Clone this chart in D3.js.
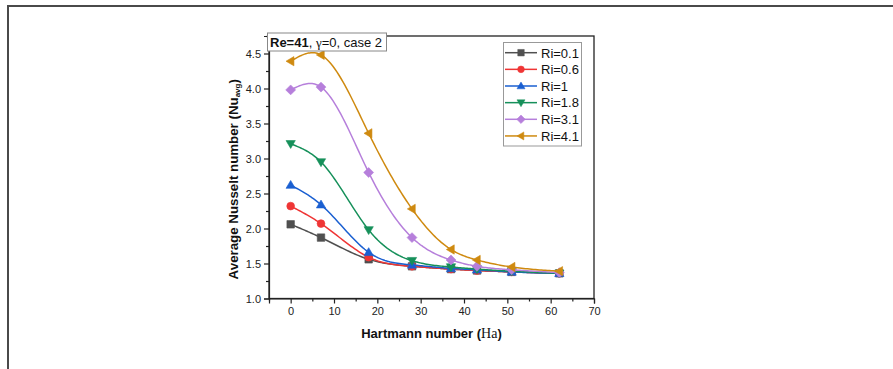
<!DOCTYPE html>
<html>
<head>
<meta charset="utf-8">
<script src="https://cdn.jsdelivr.net/npm/d3@7"></script>
<style>
  html, body { margin: 0; padding: 0; background: #fff; }
  svg { display: block; font-family: Arial, "Liberation Sans", sans-serif; }
</style>
</head>
<body>
<svg id="chart" width="893" height="369"></svg>
<script>
// Hartmann numbers sampled
const hartmann = [0, 7, 18, 28, 37, 43, 51, 62];

// Average Nusselt number for each Richardson number
const ri01 = [2.06, 1.87, 1.56, 1.46, 1.42, 1.40, 1.38, 1.36];
const ri06 = [2.32, 2.07, 1.59, 1.46, 1.42, 1.40, 1.38, 1.36];
const ri1  = [2.62, 2.34, 1.66, 1.48, 1.43, 1.41, 1.38, 1.36];
const ri18 = [3.21, 2.95, 1.98, 1.54, 1.45, 1.42, 1.39, 1.36];
const ri31 = [3.98, 4.02, 2.80, 1.87, 1.55, 1.46, 1.41, 1.37];
const ri41 = [4.39, 4.48, 3.36, 2.28, 1.70, 1.55, 1.45, 1.39];

const seriesNames = ["Ri=0.1", "Ri=0.6", "Ri=1", "Ri=1.8", "Ri=3.1", "Ri=4.1"];
const xTicks = [0, 10, 20, 30, 40, 50, 60, 70];
const yTicks = [1.0, 1.5, 2.0, 2.5, 3.0, 3.5, 4.0, 4.5];

const series = [
  { name: seriesNames[0], values: ri01, color: "#505050", shape: "square" },
  { name: seriesNames[1], values: ri06, color: "#ef3535", shape: "circle" },
  { name: seriesNames[2], values: ri1,  color: "#1a5fd1", shape: "up" },
  { name: seriesNames[3], values: ri18, color: "#16905a", shape: "down" },
  { name: seriesNames[4], values: ri31, color: "#b67fdb", shape: "diamond" },
  { name: seriesNames[5], values: ri41, color: "#cf8a10", shape: "left" }
];

const svg = d3.select("#chart");

// outer frame (left and top edges of the figure panel)
svg.append("path")
  .attr("d", "M8,369 V6 H893")
  .attr("fill", "none")
  .attr("stroke", "#4a4a4a")
  .attr("stroke-width", 2);

const plot = { left: 269, right: 594, top: 36, bottom: 298.5 };

const x = d3.scaleLinear().domain([-5, 70]).range([plot.left, plot.right]);
const y = d3.scaleLinear().domain([1.0, 4.75]).range([plot.bottom, plot.top]);

// frame of the plot area
svg.append("rect")
  .attr("x", plot.left).attr("y", plot.top)
  .attr("width", plot.right - plot.left).attr("height", plot.bottom - plot.top)
  .attr("fill", "none").attr("stroke", "#222").attr("stroke-width", 1.3);

// x axis: major + minor ticks
svg.append("g").attr("transform", `translate(0,${plot.bottom})`)
  .call(d3.axisBottom(x).tickValues(xTicks).tickSize(5).tickPadding(4).tickFormat(d3.format("d")));
svg.append("g").attr("transform", `translate(0,${plot.bottom})`)
  .call(d3.axisBottom(x).tickValues([-5, 5, 15, 25, 35, 45, 55, 65]).tickSize(3).tickFormat(""))
  .call(g => g.select(".domain").remove());

// y axis: major + minor ticks
svg.append("g").attr("transform", `translate(${plot.left},0)`)
  .call(d3.axisLeft(y).tickValues(yTicks).tickSize(5).tickPadding(3).tickFormat(d3.format(".1f")));
svg.append("g").attr("transform", `translate(${plot.left},0)`)
  .call(d3.axisLeft(y).tickValues([1.25, 1.75, 2.25, 2.75, 3.25, 3.75, 4.25, 4.75]).tickSize(3).tickFormat(""))
  .call(g => g.select(".domain").remove());

svg.selectAll(".tick line, .domain").attr("stroke", "#222").attr("stroke-width", 1.2);
svg.selectAll(".tick text").attr("font-size", 11).attr("fill", "#222")
  .attr("font-family", "Arial, 'Liberation Sans', sans-serif");

// axis titles
const xTitle = svg.append("text")
  .attr("x", (x(-5) + x(70)) / 2).attr("y", 338)
  .attr("text-anchor", "middle").attr("font-size", 13).attr("font-weight", "bold").attr("fill", "#111");
xTitle.append("tspan").text("Hartmann number (");
xTitle.append("tspan").attr("font-family", "'Liberation Serif', 'DejaVu Serif', serif").attr("font-weight", "normal").attr("font-size", 14).text("Ha");
xTitle.append("tspan").text(")");

const yTitle = svg.append("text")
  .attr("transform", `translate(238,${(plot.top + plot.bottom) / 2 + 12}) rotate(-90)`)
  .attr("text-anchor", "middle").attr("font-size", 13.3).attr("font-weight", "bold").attr("fill", "#111");
yTitle.append("tspan").text("Average Nusselt number (Nu");
yTitle.append("tspan").attr("font-size", 8).attr("dy", 2).text("avg");
yTitle.append("tspan").attr("dy", -2).text(")");

// marker symbols
function symbolPath(shape, size) {
  const s = size;
  switch (shape) {
    case "square": return d3.symbol(d3.symbolSquare, s * s).call();
    case "circle": return d3.symbol(d3.symbolCircle, s * s * 0.85).call();
    case "diamond": {
      const r = s * 0.66;
      return `M0,${-r}L${r},0L0,${r}L${-r},0Z`;
    }
    default: {
      const r = s * 0.62;
      const tri = [[0, -r], [r, r * 0.7], [-r, r * 0.7]];
      const ang = { up: 0, down: 180, left: -90 }[shape];
      const a = ang * Math.PI / 180;
      const pts = tri.map(([px, py]) => [px * Math.cos(a) - py * Math.sin(a), px * Math.sin(a) + py * Math.cos(a)]);
      return "M" + pts.map(p => p.map(v => v.toFixed(2)).join(",")).join("L") + "Z";
    }
  }
}

// natural cubic spline y(x) over non-uniform x, sampled densely
function naturalSpline(xs, ys) {
  const n = xs.length;
  const h = d3.range(n - 1).map(i => xs[i + 1] - xs[i]);
  const m = new Array(n).fill(0);
  const a = [], b = [], c = [], r = [];
  for (let i = 1; i < n - 1; i++) {
    a.push(h[i - 1]); b.push(2 * (h[i - 1] + h[i])); c.push(h[i]);
    r.push(6 * ((ys[i + 1] - ys[i]) / h[i] - (ys[i] - ys[i - 1]) / h[i - 1]));
  }
  const k = r.length;
  for (let i = 1; i < k; i++) {
    const w = a[i] / b[i - 1];
    b[i] -= w * c[i - 1];
    r[i] -= w * r[i - 1];
  }
  const sol = new Array(k);
  sol[k - 1] = r[k - 1] / b[k - 1];
  for (let i = k - 2; i >= 0; i--) sol[i] = (r[i] - c[i] * sol[i + 1]) / b[i];
  for (let i = 0; i < k; i++) m[i + 1] = sol[i];
  const pts = [];
  for (let i = 0; i < n - 1; i++) {
    const steps = 24;
    for (let s = 0; s <= steps; s++) {
      if (i > 0 && s === 0) continue;
      const t = xs[i] + h[i] * s / steps;
      const A = (xs[i + 1] - t) / h[i], B = (t - xs[i]) / h[i];
      const v = A * ys[i] + B * ys[i + 1] +
        ((A * A * A - A) * m[i] + (B * B * B - B) * m[i + 1]) * h[i] * h[i] / 6;
      pts.push([t, v]);
    }
  }
  return pts;
}

const line = d3.line().x(d => x(d[0])).y(d => y(d[1]));

const gSeries = svg.append("g");
series.forEach(s => {
  const g = gSeries.append("g");
  g.append("path").attr("d", line(naturalSpline(hartmann, s.values)))
    .attr("fill", "none").attr("stroke", s.color).attr("stroke-width", 1.5);
  g.selectAll("path.mk").data(s.values).join("path").attr("class", "mk")
    .attr("transform", (d, i) => `translate(${x(hartmann[i])},${y(d)})`)
    .attr("d", symbolPath(s.shape, 7.5))
    .attr("fill", s.color).attr("stroke", s.color).attr("stroke-width", 0.6);
});

// annotation box
const note = svg.append("g");
note.append("rect").attr("x", 267.5).attr("y", 33).attr("width", 119).attr("height", 18)
  .attr("fill", "#fff").attr("stroke", "#888").attr("stroke-width", 1);
const noteText = note.append("text").attr("x", 270).attr("y", 47).attr("font-size", 13).attr("fill", "#111");
noteText.append("tspan").attr("font-weight", "bold").text("Re=41");
noteText.append("tspan").text(", ");
noteText.append("tspan").attr("font-family", "'Liberation Serif', 'DejaVu Serif', serif").text("γ");
noteText.append("tspan").text("=0, case 2");

// legend
const legend = svg.append("g");
legend.append("rect").attr("x", 503.5).attr("y", 42.5).attr("width", 78).attr("height", 103.5)
  .attr("fill", "#fff").attr("stroke", "#999").attr("stroke-width", 1);
series.forEach((s, i) => {
  const cy = 52.7 + i * 16.65;
  legend.append("line").attr("x1", 505).attr("x2", 537).attr("y1", cy).attr("y2", cy)
    .attr("stroke", s.color).attr("stroke-width", 1.5);
  legend.append("path").attr("transform", `translate(521,${cy})`).attr("d", symbolPath(s.shape, 6.5))
    .attr("fill", s.color).attr("stroke", s.color).attr("stroke-width", 0.5);
  legend.append("text").attr("x", 541).attr("y", cy + 4.8).attr("font-size", 13).attr("fill", "#111").text(s.name);
});
</script>
</body>
</html>
